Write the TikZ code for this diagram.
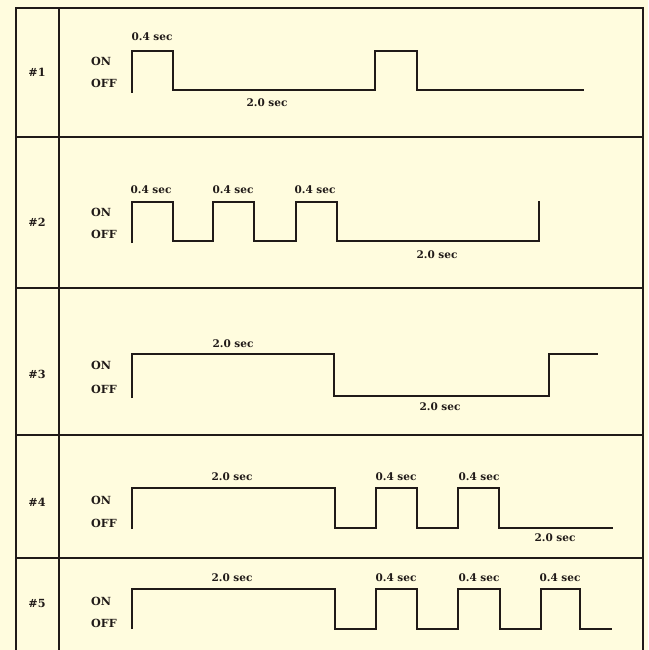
\documentclass[tikz,border=0pt]{standalone}
\usepackage{fontspec}
\setmainfont{DejaVu Serif}
\definecolor{paper}{RGB}{255,252,222}
\definecolor{ink}{RGB}{32,26,24}
\begin{document}
\begin{tikzpicture}[x=1pt,y=-1pt,
  wave/.style={line width=2pt, draw=ink, line join=miter},
  frame/.style={line width=2pt, draw=ink},
  lvl/.style={font=\bfseries\fontsize{11.2}{12}\selectfont, text=ink, anchor=west, inner sep=0pt},
  num/.style={font=\bfseries\fontsize{11.2}{12}\selectfont, text=ink, inner sep=0pt},
  dur/.style={font=\bfseries\fontsize{10.5}{11}\selectfont, text=ink, inner sep=0pt}]
\fill[paper] (0,0) rectangle (648,650);
\useasboundingbox (0,0) rectangle (648,650);
% frame
\draw[frame] (16,652) -- (16,8) -- (643,8) -- (643,652);
\draw[frame] (59,8) -- (59,652);
\foreach \yy in {137,288,435,558} \draw[frame] (16,\yy) -- (643,\yy);
% row labels
\node[num] (n1) at (37,72) {\#1};
\node[num] (n2) at (37,222) {\#2};
\node[num] (n3) at (37,374) {\#3};
\node[num] (n4) at (37,502) {\#4};
\node[num] (n5) at (37,603) {\#5};
% ON / OFF labels
\node[lvl] (on1) at (91,61) {ON};   \node[lvl] (off1) at (91,83) {OFF};
\node[lvl] (on2) at (91,212) {ON};  \node[lvl] (off2) at (91,234) {OFF};
\node[lvl] (on3) at (91,365) {ON};  \node[lvl] (off3) at (91,389) {OFF};
\node[lvl] (on4) at (91,500) {ON};  \node[lvl] (off4) at (91,523) {OFF};
\node[lvl] (on5) at (91,601) {ON};  \node[lvl] (off5) at (91,623) {OFF};
% row 1
\draw[wave] (132,93) -- (132,51) -- (173,51) -- (173,90) -- (375,90) -- (375,51) -- (417,51) -- (417,90) -- (584,90);
\node[dur] (r1a) at (152,37) {0.4 sec};
\node[dur] (r1b) at (267,103) {2.0 sec};
% row 2
\draw[wave] (132,243) -- (132,202) -- (173,202) -- (173,241) -- (213,241) -- (213,202) -- (254,202) -- (254,241) -- (296,241) -- (296,202) -- (337,202) -- (337,241) -- (539,241) -- (539,201);
\node[dur] (r2a) at (151,190) {0.4 sec};
\node[dur] (r2b) at (233,190) {0.4 sec};
\node[dur] (r2c) at (315,190) {0.4 sec};
\node[dur] (r2d) at (437,255) {2.0 sec};
% row 3
\draw[wave] (132,398) -- (132,354) -- (334,354) -- (334,396) -- (549,396) -- (549,354) -- (598,354);
\node[dur] (r3a) at (233,344) {2.0 sec};
\node[dur] (r3b) at (440,407) {2.0 sec};
% row 4
\draw[wave] (132,529) -- (132,488) -- (335,488) -- (335,528) -- (376,528) -- (376,488) -- (417,488) -- (417,528) -- (458,528) -- (458,488) -- (499,488) -- (499,528) -- (613,528);
\node[dur] (r4a) at (232,477) {2.0 sec};
\node[dur] (r4b) at (396,477) {0.4 sec};
\node[dur] (r4c) at (479,477) {0.4 sec};
\node[dur] (r4d) at (555,538) {2.0 sec};
% row 5
\draw[wave] (132,629) -- (132,589) -- (335,589) -- (335,629) -- (376,629) -- (376,589) -- (417,589) -- (417,629) -- (458,629) -- (458,589) -- (500,589) -- (500,629) -- (541,629) -- (541,589) -- (580,589) -- (580,629) -- (612,629);
\node[dur] (r5a) at (232,578) {2.0 sec};
\node[dur] (r5b) at (396,578) {0.4 sec};
\node[dur] (r5c) at (479,578) {0.4 sec};
\node[dur] (r5d) at (560,578) {0.4 sec};
\end{tikzpicture}
\end{document}
